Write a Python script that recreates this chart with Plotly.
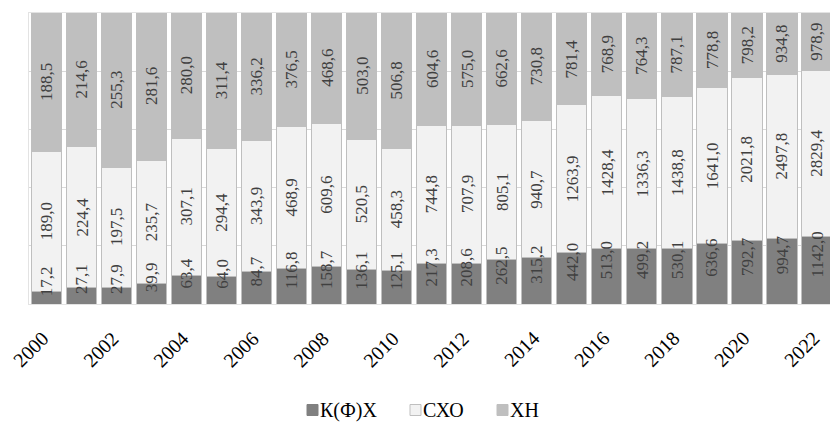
import numpy as np
import plotly.graph_objects as go

years = list(range(2000, 2023))
kfh = [17.2, 27.1, 27.9, 39.9, 63.4, 64.0, 84.7, 116.8, 158.7, 136.1, 125.1, 217.3,
       208.6, 262.5, 315.2, 442.0, 513.0, 499.2, 530.1, 636.6, 792.7, 994.7, 1142.0]
sho = [189.0, 224.4, 197.5, 235.7, 307.1, 294.4, 343.9, 468.9, 609.6, 520.5, 458.3, 744.8,
       707.9, 805.1, 940.7, 1263.9, 1428.4, 1336.3, 1438.8, 1641.0, 2021.8, 2497.8, 2829.4]
xn = [188.5, 214.6, 255.3, 281.6, 280.0, 311.4, 336.2, 376.5, 468.6, 503.0, 506.8, 604.6,
      575.0, 662.6, 730.8, 781.4, 768.9, 764.3, 787.1, 778.8, 798.2, 934.8, 978.9]
series_names = ["К(Ф)Х", "СХО", "ХН"]
tick_years = list(range(2000, 2023, 2))

colors = ["#808080", "#f2f2f2", "#bfbfbf"]
FONT = "Liberation Serif"

W, H = 830, 422
ML, MT, MB = 29, 13, 118
PW, PH = W - ML, H - MT - MB

def fmt(v):
    return f"{v:.1f}".replace(".", ",")

a = np.array(kfh); b = np.array(sho); c = np.array(xn)
tot = a + b + c
pa = a / tot * 100; pb = b / tot * 100; pc = c / tot * 100

fig = go.Figure()
for name, vals, col in zip(series_names, [kfh, sho, xn], colors):
    fig.add_trace(go.Bar(
        x=years, y=vals, name=name,
        marker=dict(color=col, line=dict(color="#bfbfbf", width=1)),
    ))

# data labels (rotated)
off = 16 / PH * 100
ys = [pa / 2 + off, pa + pb / 2, pa + pb + pc / 2]
for vals, yy in zip([kfh, sho, xn], ys):
    for xv, v, yv in zip(years, vals, yy):
        fig.add_annotation(x=xv, y=yv, text=fmt(v), textangle=-90, showarrow=False,
                           font=dict(family=FONT, size=17, color="#404040"))

# x tick labels (rotated, serif)
for yr in tick_years:
    fig.add_annotation(x=yr, y=0, yref="paper", text=str(yr), textangle=-45,
                       showarrow=False, xanchor="right", yanchor="top",
                       xshift=8, yshift=-22, borderpad=0,
                       font=dict(family=FONT, size=20, color="#000000"))

# legend (marker square + serif label), positions in pixels
leg_x = [307, 410, 497]
leg_y = 410
sq = 11
def px2paper(px, py):
    return (px - ML) / PW, (H - MB - py) / PH
for name, col, lx in zip(series_names, colors, leg_x):
    x0, y0 = px2paper(lx, leg_y + sq / 2)
    x1, y1 = px2paper(lx + sq, leg_y - sq / 2)
    fig.add_shape(type="rect", xref="paper", yref="paper", x0=x0, x1=x1, y0=y0, y1=y1,
                  fillcolor=col, line=dict(color="#bfbfbf" if col == "#f2f2f2" else col, width=1))
    tx, ty = px2paper(lx + sq + 1, leg_y)
    fig.add_annotation(x=tx, y=ty, xref="paper", yref="paper", text=name, showarrow=False,
                       xanchor="left", yanchor="middle", borderpad=0,
                       font=dict(family=FONT, size=20, color="#000000"))

fig.update_layout(
    template="none",
    width=W, height=H,
    margin=dict(l=ML, r=0, t=MT, b=MB),
    barmode="stack", barnorm="percent", bargap=0.14,
    plot_bgcolor="white", paper_bgcolor="white",
    font=dict(family=FONT, size=20, color="#000000"),
    showlegend=False,
)
fig.update_xaxes(range=[1999.5, 2022.37], tickvals=tick_years, showticklabels=False,
                 ticks="", showgrid=False, showline=True, mirror=True,
                 linecolor="#e3e3e3", linewidth=1, zeroline=False)
fig.update_yaxes(range=[0, 100], dtick=20, showticklabels=False, showgrid=True, ticks="",
                 gridcolor="#d9d9d9", gridwidth=1, showline=True, mirror=True,
                 linecolor="#e3e3e3", zeroline=False)

fig.write_html("out.html")
